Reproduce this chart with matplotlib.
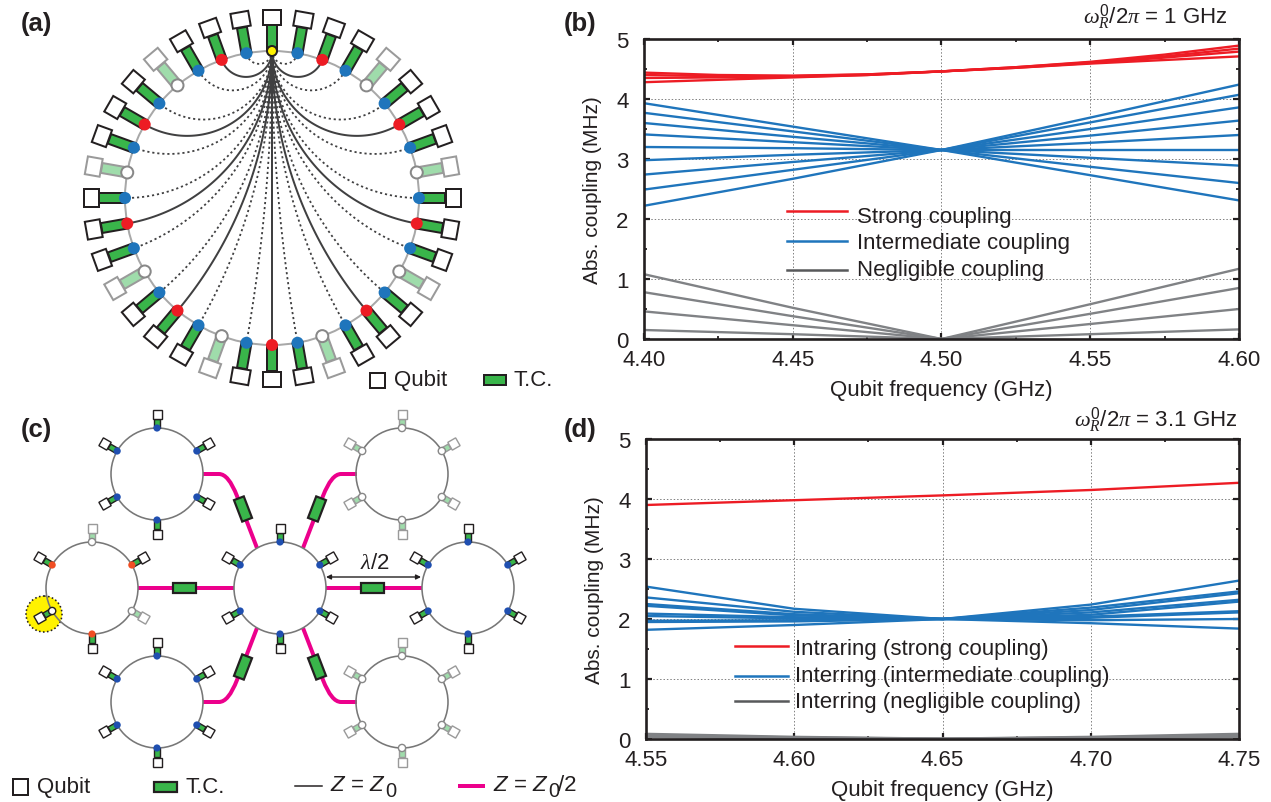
import matplotlib
matplotlib.use('Agg')
import matplotlib.pyplot as plt
import numpy as np
from matplotlib.patches import Circle, Polygon, PathPatch, Rectangle
from matplotlib.path import Path

plt.rcParams['font.family'] = ['Liberation Sans', 'DejaVu Sans']
plt.rcParams['mathtext.fontset'] = 'custom'
plt.rcParams['mathtext.rm'] = 'Liberation Sans'
plt.rcParams['mathtext.it'] = 'Liberation Serif:italic'
plt.rcParams['mathtext.sf'] = 'Liberation Sans:italic'
plt.rcParams['mathtext.bf'] = 'Liberation Sans:bold'

# panel (b)
x_b = [4.40, 4.425, 4.45, 4.475, 4.50, 4.525, 4.55, 4.575, 4.60]
red_b = [
    [4.44, 4.40, 4.39, 4.41, 4.46, 4.53, 4.62, 4.74, 4.89],
    [4.40, 4.38, 4.38, 4.41, 4.46, 4.53, 4.61, 4.71, 4.84],
    [4.35, 4.36, 4.37, 4.40, 4.46, 4.52, 4.60, 4.69, 4.79],
    [4.28, 4.32, 4.36, 4.40, 4.46, 4.52, 4.59, 4.65, 4.71],
]
x_b5 = [4.40, 4.45, 4.50, 4.55, 4.60]
blue_b = [
    [3.93, 3.54, 3.15, 2.73, 2.31],
    [3.77, 3.46, 3.15, 2.87, 2.60],
    [3.60, 3.37, 3.15, 3.02, 2.89],
    [3.41, 3.28, 3.15, 3.15, 3.15],
    [3.20, 3.18, 3.15, 3.27, 3.40],
    [2.98, 3.07, 3.15, 3.39, 3.64],
    [2.74, 2.95, 3.15, 3.50, 3.86],
    [2.49, 2.82, 3.15, 3.61, 4.07],
    [2.22, 2.67, 3.15, 3.69, 4.24],
]
gray_b = [
    [1.08, 0.52, 0.0, 0.58, 1.17],
    [0.78, 0.38, 0.0, 0.42, 0.85],
    [0.46, 0.23, 0.0, 0.25, 0.50],
    [0.15, 0.08, 0.0, 0.08, 0.16],
]

# panel (d)
x_d = [4.55, 4.60, 4.65, 4.70, 4.75]
red_d = [3.90, 3.98, 4.06, 4.15, 4.27]
blue_d = [
    [2.54, 2.17, 2.00, 2.24, 2.64],
    [2.36, 2.12, 2.00, 2.19, 2.46],
    [2.25, 2.08, 2.00, 2.15, 2.43],
    [2.22, 2.06, 2.00, 2.11, 2.32],
    [2.09, 2.03, 2.00, 2.07, 2.29],
    [2.05, 2.01, 2.00, 2.04, 2.13],
    [1.97, 1.98, 2.00, 2.02, 2.11],
    [1.95, 1.96, 2.00, 1.98, 2.00],
    [1.82, 1.90, 2.00, 1.93, 1.84],
]
gray_d = [
    [0.08, 0.03, 0.0, 0.03, 0.08],
    [0.06, 0.02, 0.0, 0.02, 0.06],
    [0.04, 0.01, 0.0, 0.01, 0.04],
]

# ring kinds, 36 sites clockwise from the top (a)
ring_a = ['Y', 'B', 'R', 'B', 'W', 'B', 'R', 'B', 'W', 'B', 'R', 'B', 'W', 'B', 'R', 'B', 'W', 'B',
          'R', 'B', 'W', 'B', 'R', 'B', 'W', 'B', 'R', 'B', 'W', 'B', 'R', 'B', 'W', 'B', 'R', 'B']
# small rings (c): centre and kinds clockwise from the top
rings_c = [
    (157, 475, 'BBBBBB'),
    (402, 475, 'WWWWWW'),
    (92, 589, 'WRWRTR'),
    (280, 589, 'BBBBBB'),
    (468, 589, 'BBBBBB'),
    (157, 703, 'BBBBBB'),
    (402, 703, 'WWWWWW'),
]

BLUE = '#1f75bc'
RED = '#ed1c24'
GRAY = '#58595b'
GREEN = '#39b54a'
LGREEN = '#9fdcab'
DARK = '#231f20'
MAGENTA = '#ec008c'
W, H = 1271, 803
PX = 0.72  # one pixel in points at dpi 100

fig = plt.figure(figsize=(W / 100, H / 100), dpi=100)


def pix_axes(left, right, top, bottom):
    return fig.add_axes([left / W, 1 - bottom / H, (right - left) / W, (bottom - top) / H])


def style_axes(ax, xlim, xticks, xminor):
    ax.set_xlim(*xlim)
    ax.set_ylim(0, 5)
    ax.set_xticks(xticks)
    ax.set_xticks(xminor, minor=True)
    ax.set_yticks(range(6))
    ax.set_yticks(np.arange(0.5, 5, 1), minor=True)
    ax.set_xticklabels(['%.2f' % t for t in xticks])
    ax.grid(True, which='major', color='#808080', ls=(0, (1.5, 2)), lw=0.7, zorder=0)
    ax.tick_params(which='major', direction='in', top=True, right=True, length=4.5, width=1.6,
                   labelsize=16, color=DARK, labelcolor=DARK)
    ax.tick_params(axis='x', which='major', pad=7)
    ax.tick_params(axis='y', which='major', pad=11)
    ax.tick_params(which='minor', direction='in', top=True, right=True, length=2.5, width=1.3, color=DARK)
    for s in ax.spines.values():
        s.set_linewidth(1.9)
        s.set_color(DARK)
        s.set_zorder(6)
    ax.set_xlabel('Qubit frequency (GHz)', fontsize=16, color=DARK, labelpad=6.5)
    ax.set_ylabel('Abs. coupling (MHz)', fontsize=15, color=DARK, labelpad=10)


# (b)
ax_b = pix_axes(644, 1239, 40, 340)
style_axes(ax_b, (4.40, 4.60), [4.40, 4.45, 4.50, 4.55, 4.60], np.arange(4.425, 4.6, 0.05))
ax_b.add_patch(Rectangle((4.4387, 0.85), 0.1053, 1.45, fc='white', ec='none', zorder=1))
for y in gray_b:
    ax_b.plot(x_b5, y, color='#808285', lw=1.7, zorder=3)
for y in blue_b:
    ax_b.plot(x_b5, y, color=BLUE, lw=1.7, zorder=3)
for y in red_b:
    ax_b.plot(x_b, y, color=RED, lw=1.7, zorder=4)

# (d)
ax_d = pix_axes(646, 1239, 440, 740)
style_axes(ax_d, (4.55, 4.75), [4.55, 4.60, 4.65, 4.70, 4.75], np.arange(4.575, 4.75, 0.05))
ax_d.add_patch(Rectangle((4.575, 0.3), 0.1336, 1.45, fc='white', ec='none', zorder=1))
for y in gray_d:
    ax_d.plot(x_d, y, color='#808285', lw=2.2, zorder=3)
for y in blue_d:
    ax_d.plot(x_d, y, color=BLUE, lw=1.7, zorder=3)
ax_d.plot(x_d, red_d, color=RED, lw=1.7, zorder=4)

# overlay in picture pixels for the two schematics and the texts
ov = fig.add_axes([0, 0, 1, 1], zorder=10)
ov.set_xlim(0, W)
ov.set_ylim(H, 0)
ov.axis('off')

# legends of (b) and (d)
for label, col, y_line, y_text in (('Strong coupling', RED, 212, 217),
                                   ('Intermediate coupling', BLUE, 242, 244),
                                   ('Negligible coupling', GRAY, 271, 271)):
    ov.plot([787, 847], [y_line, y_line], color=col, lw=1.8)
    ov.text(857, y_text, label, fontsize=16, color=DARK, va='center')
for label, col, y_line, y_text in (('Intraring (strong coupling)', RED, 647, 650),
                                   ('Interring (intermediate coupling)', BLUE, 677, 677),
                                   ('Interring (negligible coupling)', GRAY, 702, 703)):
    ov.plot([735, 788], [y_line, y_line], color=col, lw=1.8)
    ov.text(795, y_text, label, fontsize=16, color=DARK, va='center')


def box(cx, cy, w, h, ang, fc, ec, lw, z=5):
    # ang = direction of the w side, degrees, picture coordinates
    a = np.radians(ang)
    u = np.array([np.cos(a), np.sin(a)])
    v = np.array([-u[1], u[0]])
    c = np.array([cx, cy])
    pts = [c + s * w / 2 * u + t * h / 2 * v for s, t in ((-1, -1), (1, -1), (1, 1), (-1, 1))]
    ov.add_patch(Polygon(pts, closed=True, fc=fc, ec=ec, lw=lw * PX, zorder=z))


def qubit_site(cx, cy, r, ang, kind, r_stem, r_q, stem_w, q_rad, q_tan, dot_r, lw, blue=BLUE, red=RED):
    a = np.radians(ang)
    ux, uy = np.sin(a), -np.cos(a)
    light = kind == 'W'
    edge = '#9a9a9a' if light else DARK
    rm = (r + r_stem) / 2
    box(cx + rm * ux, cy + rm * uy, r_stem - r, stem_w, ang - 90, LGREEN if light else GREEN, edge, lw, z=5)
    box(cx + r_q * ux, cy + r_q * uy, q_rad, q_tan, ang - 90, 'white', edge, lw, z=6)
    px, py = cx + r * ux, cy + r * uy
    if kind == 'W':
        ov.add_patch(Circle((px, py), dot_r, fc='white', ec='#888888', lw=lw * PX, zorder=7))
    elif kind == 'T':
        ov.add_patch(Circle((px, py), dot_r, fc='white', ec=DARK, lw=lw * PX, zorder=7))
    elif kind == 'Y':
        ov.add_patch(Circle((px, py), dot_r, fc='#fff200', ec=DARK, lw=lw * PX, zorder=7))
    else:
        ov.add_patch(Circle((px, py), dot_r, fc=blue if kind == 'B' else red, ec='none', zorder=7))


# (a)
CX, CY, R = 272, 199, 147
ov.add_patch(Circle((CX, CY), R, fc='none', ec='#a8a8a8', lw=2 * PX, zorder=2))
for i, kind in enumerate(ring_a):
    if kind in 'RB' and i:
        if i == 18:
            xs, ys = np.array([CX, CX]), np.array([CY - R, CY + R])
        else:
            # arc meeting the ring at right angles at both ends, left half mirrored
            side = 1 if i < 18 else -1
            th = np.radians(min(i, 36 - i) * 10)
            half = th / 2
            dist = R / np.cos(half)
            rad = R * np.tan(half)
            mx, my = dist * np.sin(half), -dist * np.cos(half)
            a0 = np.arctan2(-R - my, -mx)
            a1 = np.arctan2(-R * np.cos(th) - my, R * np.sin(th) - mx)
            d = (a1 - a0 + np.pi) % (2 * np.pi) - np.pi
            t = np.linspace(0, 1, 80)
            xs = CX + side * (mx + rad * np.cos(a0 + d * t))
            ys = CY + my + rad * np.sin(a0 + d * t)
        if kind == 'R':
            ov.plot(xs, ys, color='#404041', lw=2 * PX, zorder=3)
        else:
            ov.plot(xs, ys, color='#404041', lw=1.8 * PX, ls=(0, (1.2, 1.6)), zorder=3)
for i, kind in enumerate(ring_a):
    qubit_site(CX, CY, R, i * 10, kind, 173, 181, 10, 15, 18, 6 if kind != 'Y' else 5, 2)

box(377, 381, 15, 15, 0, 'white', DARK, 2)
ov.text(394, 381, 'Qubit', fontsize=16, color=DARK, va='center')
box(495, 381, 22, 10, 0, GREEN, DARK, 2)
ov.text(514, 381, 'T.C.', fontsize=16, color=DARK, va='center')

# (c) connections
for xa, xb, xt in ((138, 234, 184), (326, 422, 372)):
    ov.plot([xa, xb], [589, 589], color=MAGENTA, lw=4 * PX, zorder=2, solid_capstyle='butt')
    box(xt, 589, 23, 10, 0, GREEN, DARK, 2.2)
for sx, sy, tx, ang in ((1, 1, 243, 69), (-1, 1, 317, 111), (1, -1, 243, 111), (-1, -1, 317, 69)):
    # sx: ring on the left of the centre, sy: ring above it
    x0 = 280 - sx * 77
    y0 = 589 - sy * 114
    verts = [(x0, y0), (280 - sx * 61, y0), (280 - sx * 51.5, y0), (280 - sx * 43, 589 - sy * 92),
             (280 - sx * 23, 589 - sy * 40)]
    codes = [Path.MOVETO, Path.LINETO, Path.CURVE3, Path.CURVE3, Path.LINETO]
    ov.add_patch(PathPatch(Path(verts, codes), fc='none', ec=MAGENTA, lw=4 * PX, zorder=2, capstyle='butt'))
    box(tx, 589 - sy * 79, 23, 10.5, ang, GREEN, DARK, 2.2)

# (c) rings
ov.add_patch(Circle((44, 615), 18, fc='#fff200', ec=DARK, lw=1.6 * PX, ls=(0, (1, 1.5)), zorder=1))
for cx, cy, kinds in rings_c:
    ov.add_patch(Circle((cx, cy), 46, fc='none', ec='#777777', lw=1.6 * PX, zorder=3))
    for j, kind in enumerate(kinds):
        qubit_site(cx, cy, 46, j * 60, kind, 55, 60, 5.5, 9, 9, 3.6, 1.4, blue='#1f4fb0', red='#f04e23')

ov.annotate('', xy=(326, 578), xytext=(421, 578),
            arrowprops=dict(arrowstyle='<|-|>', color=DARK, lw=1.0, shrinkA=0, shrinkB=0, mutation_scale=7))
ov.text(375, 564, r'$\lambda$/2', fontsize=16, color=DARK, ha='center', va='center')

# legend of (c)
box(20, 788, 15, 16, 0, 'white', DARK, 2)
ov.text(37, 788, 'Qubit', fontsize=16, color=DARK, va='center')
box(165, 788, 23, 10, 0, GREEN, DARK, 2.2)
ov.text(185, 788, 'T.C.', fontsize=16, color=DARK, va='center')
ov.plot([295, 322], [787, 787], color=DARK, lw=1.5 * PX)
ov.text(330, 786, r'$\mathsf{Z}$ = $\mathsf{Z}$', fontsize=16, color=DARK, va='center')
ov.text(385, 792, '0', fontsize=14.5, color=DARK, va='center')
ov.plot([458, 485], [787, 787], color=MAGENTA, lw=4 * PX, solid_capstyle='butt')
ov.text(493, 786, r'$\mathsf{Z}$ = $\mathsf{Z}$', fontsize=16, color=DARK, va='center')
ov.text(548, 792, '0', fontsize=14.5, color=DARK, va='center')
ov.text(558, 786, '/2', fontsize=16, color=DARK, va='center')

# panel letters and headers
for lab, lx, ly in (('(a)', 21, 24), ('(b)', 564, 24), ('(c)', 21, 430), ('(d)', 564, 430)):
    ov.text(lx, ly, lab, fontsize=18.5, fontweight='bold', color=DARK, va='center')
ov.text(1228, 18, r'$\omega_R^0/2\pi$ = 1 GHz', fontsize=16, color=DARK, ha='right', va='center')
ov.text(1237, 421, r'$\omega_R^0/2\pi$ = 3.1 GHz', fontsize=16, color=DARK, ha='right', va='center')

fig.savefig('out.png', dpi=100)
